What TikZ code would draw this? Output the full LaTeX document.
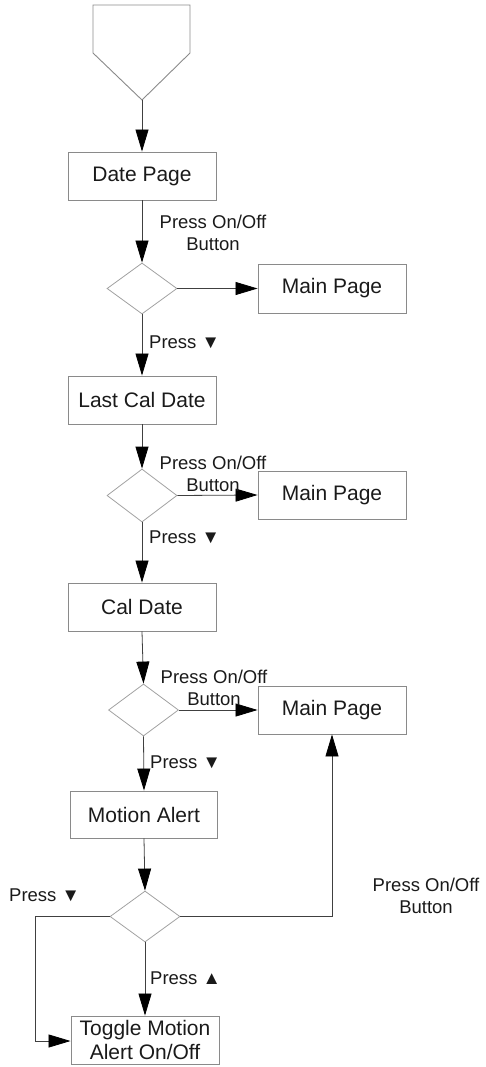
\documentclass[tikz,border=0pt]{standalone}
\usepackage{fontspec}
\setmainfont{Liberation Sans}
\usetikzlibrary{arrows.meta,shapes.geometric}
\definecolor{boxline}{HTML}{8A8A8A}
\definecolor{conn}{HTML}{404040}
\definecolor{txt}{HTML}{1A1A1A}
\tikzset{
  stepbox/.style={draw=boxline, line width=0.9pt, minimum width=148pt, minimum height=48pt, inner sep=0pt, font=\fontsize{21}{23}\selectfont, text=txt, align=center},
  decide/.style={draw=boxline!80, line width=0.8pt, diamond, minimum width=70pt, minimum height=52pt, inner sep=0pt, aspect=1.35},
  conn/.style={draw=conn, line width=0.8pt},
  arr/.style={conn, -{Triangle[length=22pt,width=13pt,color=black,fill=black]}},
  lbl/.style={font=\fontsize{18.5}{22}\selectfont, text=txt, align=center, inner sep=0pt},
}
\begin{document}
\begin{tikzpicture}[x=1pt,y=-1pt]
\useasboundingbox (0,0) rectangle (485,1067);
% start shape
\draw[draw=boxline, line width=0.9pt] (93,5) -- (190,5) -- (190,53) -- (142,100) -- (93,53) -- cycle;
\coordinate (start) at (142,100);

\node[stepbox] (date) at (142,176) {Date Page};
\node[decide, minimum width=70pt, minimum height=51pt] (d1) at (142,288.5) {};
\node[stepbox, minimum height=49pt] (main1) at (332,288.5) {Main Page};
\node[stepbox] (last) at (142,400) {Last Cal Date};
\node[decide, minimum width=70pt, minimum height=53pt] (d2) at (142,495.5) {};
\node[stepbox] (main2) at (332,495) {Main Page};
\node[stepbox] (cal) at (142,607) {Cal Date};
\node[decide, minimum width=70pt, minimum height=52pt] (d3) at (143.5,710) {};
\node[stepbox] (main3) at (332,710) {Main Page};
\node[stepbox, minimum width=147pt, minimum height=47pt] (motion) at (144,814.5) {Motion Alert};
\node[decide, minimum width=70pt, minimum height=51pt] (d4) at (145,916.5) {};
\node[stepbox, minimum width=148pt, minimum height=48pt, font=\fontsize{21}{24}\selectfont] (toggle) at (145,1040) {Toggle Motion\\Alert On/Off};

\coordinate (leftc) at (35,916.5);
\coordinate (leftb) at (35,1041);
\coordinate (rightc) at (332,916.5);

% connectors
\draw[arr] (start) -- (date.north);
\draw[arr] (date.south) -- (d1.north);
\draw[arr] (d1.east) -- (main1.west);
\draw[arr] (d1.south) -- (last.north);
\draw[arr] (last.south) -- (d2.north);
\draw[arr] (d2.east) -- (main2.west);
\draw[arr] (d2.south) -- (cal.north);
\draw[arr] (cal.south) -- (d3.north);
\draw[arr] (d3.east) -- (main3.west);
\draw[arr] (d3.south) -- (motion.north);
\draw[arr] (motion.south) -- (d4.north);
\draw[arr] (d4.east) -- (rightc) -- (main3.south -| rightc);
\draw[arr] (d4.south) -- (toggle.north);
\draw[arr] (d4.west) -- (leftc) -- (leftb) -- (leftb -| toggle.west);

% labels
\node[lbl] (l1) at (213,233) {Press On/Off\\Button};
\node[lbl, anchor=west] (p1) at (149,342) {Press ▼};
\node[lbl] (l2) at (213,474) {Press On/Off\\Button};
\node[lbl, anchor=west] (p2) at (149,537) {Press ▼};
\node[lbl] (l3) at (214,688) {Press On/Off\\Button};
\node[lbl, anchor=west] (p3) at (150,762) {Press ▼};
\node[lbl, anchor=west] (p4) at (150,978) {Press ▲};
\node[lbl, anchor=west] (p5) at (9,895) {Press ▼};
\node[lbl] (l4) at (426,896) {Press On/Off\\Button};
\end{tikzpicture}
\end{document}
